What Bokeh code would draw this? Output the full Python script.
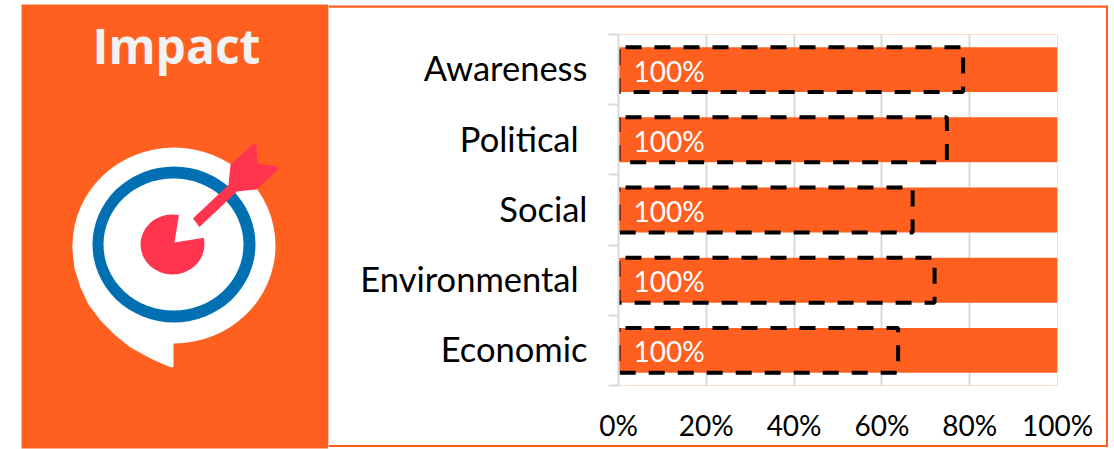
from bokeh.plotting import figure
from bokeh.models import Range1d, FixedTicker, ColumnDataSource
from bokeh.core.properties import value
from bokeh.embed import file_html
from bokeh.resources import INLINE

categories = ["Economic", "Environmental\u00a0", "Social", "Political\u00a0", "Awareness"]
impact = [63.7, 72, 67, 74.8, 78.5]
full = [100, 100, 100, 100, 100]
x_ticks = [0, 20, 40, 60, 80, 100]

ORANGE = "#FF6020"
positions = [i + 0.5 for i in range(len(categories))]
label_positions = [i + 0.525 for i in range(len(categories))]

# ---------- frame behind the chart ----------
frame = figure(width=780, height=442, x_range=Range1d(0, 1), y_range=Range1d(0, 1),
               output_backend="svg", toolbar_location=None, min_border=0,
               x_axis_type=None, y_axis_type=None, background_fill_color=ORANGE,
               border_fill_color=ORANGE, outline_line_color=None,
               styles={"position": "absolute", "left": "328px", "top": "5px"})
frame.grid.visible = False

# ---------- left panel ----------
left = figure(width=328, height=449, x_range=Range1d(0, 328), y_range=Range1d(449, 0),
              output_backend="svg", toolbar_location=None, min_border=0,
              x_axis_type=None, y_axis_type=None, background_fill_color="white",
              border_fill_color="white", outline_line_color=None,
              styles={"position": "absolute", "left": "0px", "top": "0px"})
left.grid.visible = False
left.patch([21, 328, 328, 21], [4, 4, 448, 448], fill_color=ORANGE, line_color=None)
left.text(x=[176], y=[45], text=["Impact"], text_font=value("Open Sans"), text_font_style="bold",
          text_font_size="48px", text_color="#F2F2F2", text_align="center", text_baseline="middle")
left.ellipse(x=[173.5], y=[245], width=203, height=196, fill_color="white", line_color=None)
left.patch([72, 74, 80, 88, 100, 115, 130, 150, 168, 172, 173, 173, 200],
           [245, 268, 287, 304, 320, 335, 347, 358, 366, 367, 366, 343, 300],
           fill_color="white", line_color=None)
left.ellipse(x=[173.5], y=[244], width=163, height=156, fill_color="#0070B2", line_color=None)
left.ellipse(x=[173], y=[244], width=140, height=132, fill_color="white", line_color=None)
left.ellipse(x=[172], y=[244], width=64, height=60, fill_color="#FF3550", line_color=None)
left.patch([174, 180, 215, 205], [242, 205, 233, 237], fill_color="white", line_color=None)
left.patch([193, 199, 236, 229], [218, 226, 191, 184], fill_color="#FF3550", line_color="#FF3550")
left.patch([230, 252, 256, 257, 277, 277, 256, 236, 228],
           [164, 144, 144, 163, 166, 170, 189, 191, 184], fill_color="#FF3550", line_color=None)

# ---------- chart ----------
p = figure(width=778, height=438, x_range=Range1d(0, 100), y_range=Range1d(0, len(categories)),
           output_backend="svg", toolbar_location=None,
           min_border_left=290, min_border_right=49, min_border_top=27, min_border_bottom=60,
           background_fill_color="white", border_fill_color="white", outline_line_color=None,
           styles={"position": "absolute", "left": "328px", "top": "7px"})

src = ColumnDataSource(dict(y=positions, full=full, impact=impact,
                            lab=["100%" for v in full], base=[0] * len(full)))
p.hbar(y="y", right="full", left="base", height=0.64, source=src, fill_color=ORANGE, line_color=None)
p.hbar(y="y", right="impact", left="base", height=0.64, source=src, fill_color=None,
       line_color="black", line_width=4, line_dash="16 13", line_dash_offset=22)
p.text(x="base", y="y", text="lab", source=src, x_offset=15, y_offset=1, text_font=value("Lato"),
       text_font_size="28px", text_color="white", text_align="left", text_baseline="middle")

p.ygrid.visible = False
p.xgrid.grid_line_color = "#D9D9D9"
p.xgrid.grid_line_width = 2
p.xgrid.ticker = FixedTicker(ticks=x_ticks)

xa = p.xaxis[0]
xa.ticker = FixedTicker(ticks=x_ticks)
xa.major_label_overrides = {t: f"{t}%" for t in x_ticks}
xa.axis_line_color = None
xa.major_tick_line_color = None
xa.minor_tick_line_color = None
xa.major_tick_out = 0
xa.major_label_standoff = 22
xa.major_label_text_font = "Lato"
xa.major_label_text_font_size = "28px"
xa.major_label_text_color = "black"

ya = p.yaxis[0]
ya.ticker = FixedTicker(ticks=label_positions, minor_ticks=list(range(len(categories) + 1)))
ya.major_label_overrides = dict(zip(label_positions, categories))
ya.axis_line_color = "#D9D9D9"
ya.axis_line_width = 2
ya.major_tick_line_color = None
ya.major_tick_out = 0
ya.major_tick_in = 0
ya.minor_tick_line_color = "#D9D9D9"
ya.minor_tick_line_width = 2
ya.minor_tick_out = 10
ya.minor_tick_in = 0
ya.major_label_standoff = 21
ya.major_label_text_font = "Lato"
ya.major_label_text_font_size = "34.5px"
ya.major_label_text_color = "black"

open("out.html", "w").write(file_html([frame, left, p], INLINE))
